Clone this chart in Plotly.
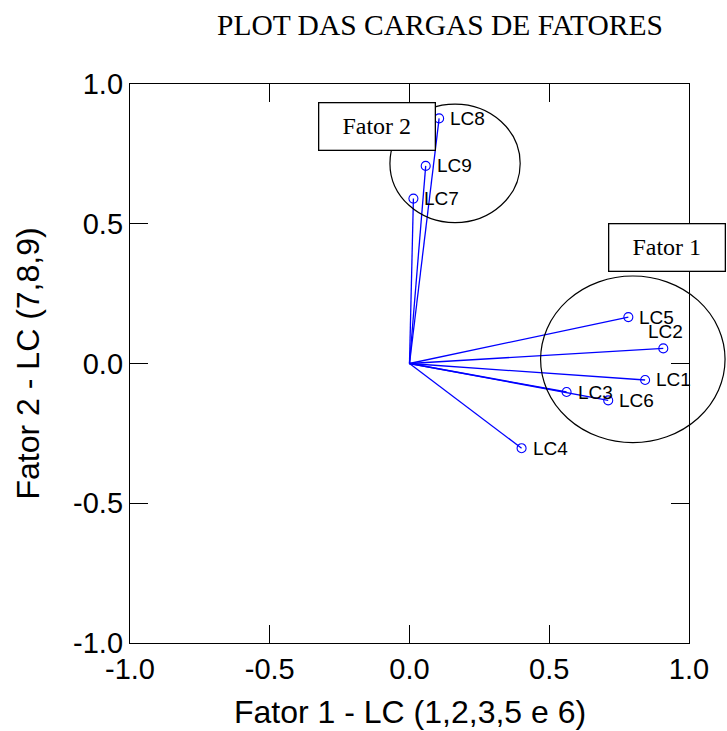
import plotly.graph_objects as go

# ---- data ----
labels = ["LC1", "LC2", "LC3", "LC4", "LC5", "LC6", "LC7", "LC8", "LC9"]
fator1 = [0.843, 0.908, 0.562, 0.401, 0.783, 0.711, 0.014, 0.106, 0.058]
fator2 = [-0.059, 0.054, -0.102, -0.303, 0.166, -0.132, 0.590, 0.877, 0.707]

tick_vals = [-1.0, -0.5, 0.0, 0.5, 1.0]
tick_text = ["-1.0", "-0.5", "0.0", "0.5", "1.0"]

title_text = "PLOT DAS CARGAS DE FATORES"
x_title = "Fator 1 - LC (1,2,3,5 e 6)"
y_title = "Fator 2 - LC (7,8,9)"

# label offsets (pixels) for point labels
label_dx = {"LC2": -17}
label_dy = {"LC2": 17}

BLUE = "#0000ff"
SANS = "Liberation Sans, Arial, sans-serif"
SERIF = "Liberation Serif, Times New Roman, serif"

fig = go.Figure()

# vectors from origin
lx, ly = [], []
for a, b in zip(fator1, fator2):
    lx += [0, a, None]
    ly += [0, b, None]
fig.add_trace(go.Scatter(x=lx, y=ly, mode="lines",
                         line=dict(color=BLUE, width=1.3),
                         hoverinfo="skip", showlegend=False))
fig.add_trace(go.Scatter(x=fator1, y=fator2, mode="markers", text=labels,
                         marker=dict(symbol="circle-open", size=9,
                                     color=BLUE, line=dict(width=1.1, color=BLUE)),
                         showlegend=False, cliponaxis=False))

for name, a, b in zip(labels, fator1, fator2):
    fig.add_annotation(x=a, y=b, text=name, showarrow=False,
                       xanchor="left", yanchor="middle",
                       xshift=label_dx.get(name, 9), yshift=label_dy.get(name, 0),
                       font=dict(family=SANS, size=19, color="black"))

def px(v):  # data -> paper, x range [-1, 1]
    return (v + 1) / 2

# ellipses grouping factors (paper refs so they are not clipped)
ellipses = [(0.163, 0.716, 0.233, 0.212), (0.799, 0.015, 0.330, 0.298)]
for cx, cy, rx, ry in ellipses:
    fig.add_shape(type="circle", xref="paper", yref="paper",
                  x0=px(cx - rx), x1=px(cx + rx), y0=px(cy - ry), y1=px(cy + ry),
                  line=dict(color="black", width=1.2))

# factor boxes
boxes = [("Fator 2", -0.117, 0.847), ("Fator 1", 0.921, 0.414)]
for txt, bx, by in boxes:
    fig.add_annotation(xref="paper", yref="paper", x=px(bx), y=px(by),
                       text=txt, showarrow=False, xanchor="center", yanchor="middle",
                       width=115, height=46, borderpad=0, borderwidth=1.3,
                       bordercolor="black", bgcolor="white",
                       font=dict(family=SERIF, size=24, color="black"))

# title and axis titles
fig.add_annotation(xref="paper", yref="paper", x=0.5546, y=1.1055, text=title_text,
                   showarrow=False, xanchor="center", yanchor="middle",
                   font=dict(family=SERIF, size=29.5, color="black"))
fig.add_annotation(xref="paper", yref="paper", x=0.5, y=-0.1234, text=x_title,
                   showarrow=False, xanchor="center", yanchor="middle",
                   font=dict(family=SANS, size=32, color="black"))
fig.add_annotation(xref="paper", yref="paper", x=-0.1825, y=0.5, text=y_title,
                   showarrow=False, xanchor="center", yanchor="middle", textangle=-90,
                   font=dict(family=SANS, size=32, color="black"))

axis_common = dict(range=[-1, 1], tickvals=tick_vals, ticktext=tick_text,
                   showgrid=False, zeroline=False, showline=True, linecolor="black",
                   linewidth=1.3, mirror="ticks", ticks="inside", ticklen=18,
                   tickwidth=1.3, tickcolor="black",
                   tickfont=dict(family=SANS, size=29, color="black"))

fig.update_layout(
    width=727, height=731,
    margin=dict(l=130, r=38, t=84, b=88),
    paper_bgcolor="white", plot_bgcolor="white",
    xaxis=axis_common,
    yaxis=axis_common,
)

fig.write_html("out.html")
